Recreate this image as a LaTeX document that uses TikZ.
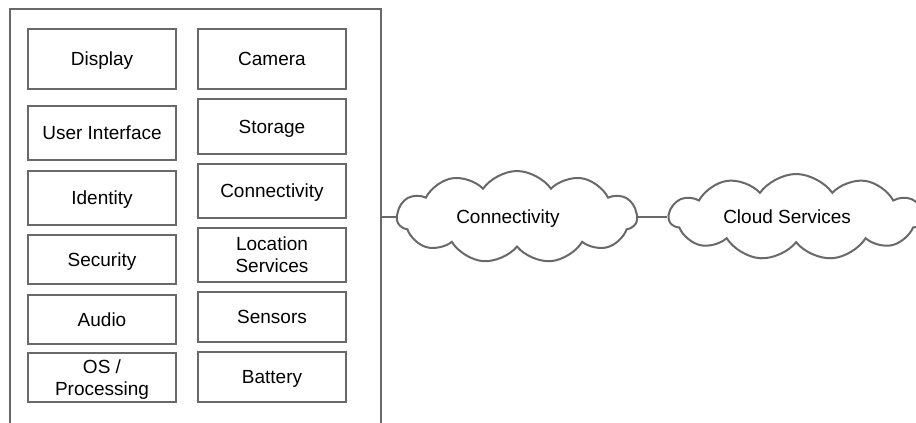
\documentclass[tikz,border=0pt]{standalone}
\usepackage{fontspec}
\setmainfont{Liberation Sans}
\usetikzlibrary{positioning, fit, shapes.symbols}
\definecolor{linegray}{RGB}{105,105,105}
\tikzset{
    x=1pt, y=-1pt,
    node distance=8pt, % gap between stacked parts
    every node/.style={ % Sets the text for every node
        font=\fontsize{19}{22}\selectfont,
        text depth=0pt
    },
    part/.style={ % one block of the device
        draw=linegray,
        line width=2pt,
        minimum width=148pt,
        inner sep=0pt,
        align=center
    },
    cloudnet/.style={ % network clouds, label a little left of centre
        cloud,
        draw=linegray,
        line width=2pt,
        cloud puffs=11,
        cloud puff arc=110,
        cloud ignores aspect,
        minimum width=240pt,
        minimum height=92pt,
        inner sep=0pt,
        execute at begin node={\hspace*{-18pt}}
    },
    wire/.style={draw=linegray, line width=2pt},
}

\begin{document}
\begin{tikzpicture}
    \useasboundingbox (0,0) rectangle (916,423);
    \clip (0,0) rectangle (916,423);
    % device outline, open at the bottom
    \node[wire, fit={(10,9) (381,440)}, inner sep=0pt]        (phone) {};
    % left column
    \node[part, minimum height=60pt, anchor=north] at (102,28) (disp) {Display};
    \node[part, minimum height=54pt, below=15pt of disp]      (ui)    {User Interface};
    \node[part, minimum height=54pt, below=9pt of ui]         (ident) {Identity};
    \node[part, minimum height=49pt, below=8pt of ident]      (sec)   {Security};
    \node[part, minimum height=49pt, below=9pt of sec]        (audio) {Audio};
    \node[part, minimum height=49pt, below=7pt of audio]      (os)    {OS /\\Processing};
    % right column
    \node[part, minimum height=60pt, anchor=north] at (272,28) (cam) {Camera};
    \node[part, minimum height=55pt, below=of cam]            (stor)  {Storage};
    \node[part, minimum height=54pt, below=of stor]           (conn)  {Connectivity};
    \node[part, minimum height=54pt, below=of conn]           (loc)   {Location\\Services};
    \node[part, minimum height=50pt, below=of loc]            (sens)  {Sensors};
    \node[part, minimum height=50pt, below=of sens]           (batt)  {Battery};
    % network
    \node[cloudnet] at (517,217)                              (net)   {Connectivity};
    \node[cloudnet, minimum width=254pt, minimum height=86pt,
          right=29pt of net]                                  (cloud) {Cloud Services};
    \draw[wire] (net.west -| phone.east) -- (net.west);
    \draw[wire] (net.east) -- (cloud.west);
\end{tikzpicture}
\end{document}
